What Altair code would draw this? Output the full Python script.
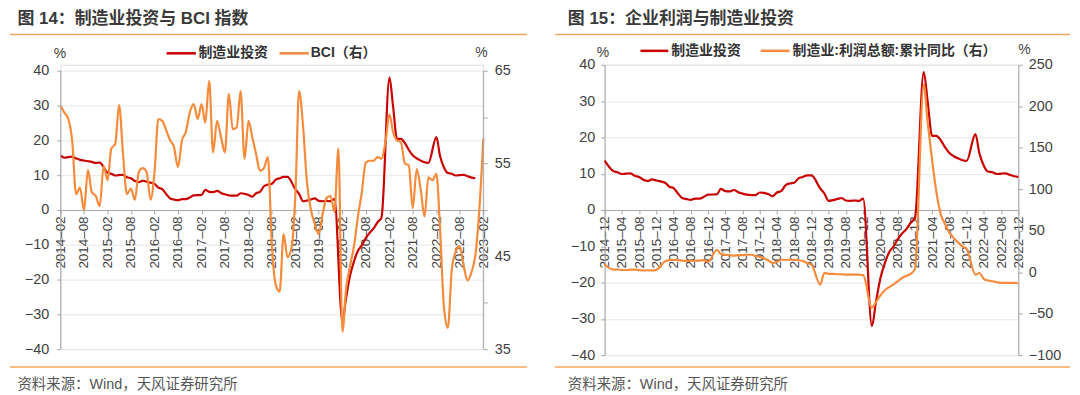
import altair as alt
import pandas as pd

# ---------------- data ----------------
# 制造业投资 累计同比 (%), Feb..Dec of each year
inv_2014 = [15.6, 15.0, 15.2, 15.3, 14.8, 14.4, 14.2, 14.0, 13.8, 13.5, 13.6]
inv_2015 = [10.7, 10.4, 9.9, 10.0, 10.1, 9.4, 9.1, 8.3, 8.0, 8.4, 8.1]
inv_2016 = [7.5, 6.4, 6.0, 4.6, 3.3, 3.0, 2.8, 3.1, 3.1, 3.6, 4.2]
inv_2017 = [4.3, 5.8, 5.2, 5.1, 5.5, 4.9, 4.5, 4.2, 4.1, 4.1, 4.8]
inv_2018 = [4.3, 3.8, 4.8, 5.2, 6.8, 7.3, 7.5, 8.7, 9.1, 9.5, 9.5]
inv_2019 = [5.9, 4.6, 2.5, 2.7, 3.0, 3.3, 2.6, 2.5, 2.6, 2.5, 3.1]
inv_2020 = [-32.0, -25.2, -18.8, -14.8, -11.7, -10.2, -8.1, -6.5, -5.3, -3.5, -2.2]
inv_2021 = [38.0, 29.8, 20.4, 20.4, 19.2, 17.3, 15.7, 14.8, 14.2, 13.7, 13.5]
inv_2022 = [20.9, 15.6, 12.2, 10.6, 10.4, 9.9, 10.0, 10.1, 9.7, 9.3, 9.1]

# BCI, monthly 2014-02 .. 2023-02
bci = [61.2, 60.5, 59.8, 57.5, 51.7, 52.4, 50.0, 54.3, 51.9, 51.5,
       50.4, 54.7, 53.2, 56.6, 57.1, 61.3, 56.0, 51.7, 52.3, 51.1,
       54.1, 54.5, 54.1, 51.1, 54.1, 59.8, 59.6, 58.6, 57.5, 56.8,
       54.6, 57.5, 58.4, 60.5, 61.4, 59.8, 61.4, 59.4, 63.9, 56.2,
       59.6, 57.9, 56.2, 62.5, 58.7, 58.9, 62.8, 55.5, 59.6, 57.9,
       56.0, 54.2, 54.5, 55.7, 46.3, 41.9, 41.2, 47.4, 44.9, 45.9,
       51.9, 62.8, 59.0, 53.0, 50.0, 48.5, 47.4, 49.6, 51.3, 51.5,
       49.8, 56.6, 36.9, 41.5, 44.0, 46.1, 49.3, 51.9, 55.1, 55.3,
       55.3, 55.7, 55.5, 57.3, 60.3, 58.4, 57.5, 57.3, 55.0, 54.8,
       50.2, 54.4, 52.3, 49.3, 53.5, 53.2, 53.9, 48.1, 39.5, 37.3,
       43.6, 45.5, 46.1, 44.0, 42.4, 43.3, 45.1, 50.0, 57.7]

# 制造业:利润总额:累计同比 (%), 2014-12 then Feb..Dec of each year
profit_2014 = [9.2]
profit_2015 = [3.0, 3.2, 2.6, 2.6, 3.0, 3.0, 2.5, 2.0, 2.3, 2.0, 2.8]
profit_2016 = [13.0, 14.5, 15.0, 14.5, 14.0, 13.5, 13.5, 14.0, 14.0, 14.5, 12.5]
profit_2017 = [27.0, 22.0, 21.0, 20.5, 20.0, 20.5, 20.5, 21.0, 21.0, 19.5, 18.5]
profit_2018 = [14.0, 11.0, 12.5, 15.0, 15.0, 15.0, 15.0, 14.5, 13.5, 11.0, 9.0]
profit_2019 = [-15.0, -1.0, -2.0, -2.0, -2.5, -2.5, -3.0, -3.0, -3.0, -3.0, -3.5]
profit_2020 = [-43.0, -36.0, -28.0, -22.0, -18.0, -15.0, -11.0, -7.0, -4.5, -2.0, 4.0]
profit_2021 = [226.0, 180.0, 135.0, 97.0, 70.0, 58.0, 48.0, 41.0, 36.0, 31.0, 28.0]
profit_2022 = [-3.0, -1.0, -8.0, -10.0, -11.0, -12.0, -13.0, -13.0, -13.0, -13.0, -13.4]

# ---------------- helpers ----------------
def ym(y, m):
    return f"{y:04d}-{m:02d}-01"

def ms(s):
    return int(pd.Timestamp(s, tz="UTC").value // 10**6)

def month_seq(y, m, n, step=1):
    out = []
    for _ in range(n):
        out.append(ym(y, m))
        m += step
        while m > 12:
            m -= 12
            y += 1
    return out

inv_dates = [ym(y, m) for y in range(2014, 2023) for m in range(2, 13)]
inv_vals = inv_2014 + inv_2015 + inv_2016 + inv_2017 + inv_2018 + inv_2019 + inv_2020 + inv_2021 + inv_2022
bci_dates = month_seq(2014, 2, len(bci))
prof_dates = [ym(2014, 12)] + [ym(y, m) for y in range(2015, 2023) for m in range(2, 13)]
prof_vals = profit_2014 + profit_2015 + profit_2016 + profit_2017 + profit_2018 + profit_2019 + profit_2020 + profit_2021 + profit_2022

inv_df_l = pd.DataFrame({"d": inv_dates, "v": inv_vals})
inv_df_r = inv_df_l[inv_df_l["d"] >= "2014-12-01"].reset_index(drop=True)
bci_df = pd.DataFrame({"d": bci_dates, "v": bci})
prof_df = pd.DataFrame({"d": prof_dates, "v": prof_vals})
one = pd.DataFrame({"k": [0]})

left_ticks = month_seq(2014, 2, 19, 6)
right_ticks = month_seq(2014, 12, 25, 4)

# ---------------- style ----------------
FONT = "Liberation Sans, Noto Sans CJK SC"
RED = "#C80000"
ORANGE = "#F58B3B"
SEP = "#F5A55F"
GRID = "#E8E8E8"
AXC = "#A6A6A6"
TXT = "#3F3F3F"

def xenc(d0, d1, ticks, offset):
    return alt.X(
        "d:T",
        scale=alt.Scale(type="utc", domain=[ms(d0), ms(d1)], nice=False),
        axis=alt.Axis(
            values=[ms(t) for t in ticks],
            labelExpr="utcFormat(datum.value, '%Y') + '–' + utcFormat(datum.value, '%m')",
            labelAngle=270, labelFont=FONT, labelFontSize=13.5, labelColor=TXT,
            labelPadding=2, labelOverlap=False, labelFlush=False,
            offset=offset, domainColor=AXC, tickColor=AXC, tickSize=4,
            grid=False, title=None,
        ),
    )

def yaxis(orient, values, grid, expr=None, pad=7, domain=True):
    kw = dict(orient=orient, values=values, grid=grid, gridColor=GRID,
              domain=domain, domainColor=AXC, tickColor=AXC, tickSize=4,
              labelFont=FONT, labelFontSize=14.5, labelColor=TXT,
              labelPadding=pad, title=None)
    if expr:
        kw["labelExpr"] = expr
    return alt.Axis(**kw)

def txt(s, x, y, size, weight="normal", color=TXT, baseline="middle"):
    return alt.Chart(one).mark_text(
        text=s, align="left", baseline=baseline, fontSize=size,
        fontWeight=weight, color=color, font=FONT,
    ).encode(x=alt.value(x), y=alt.value(y))

def hline(x1, x2, y, color, width):
    return alt.Chart(one).mark_rule(color=color, strokeWidth=width).encode(
        x=alt.value(x1), x2=alt.value(x2), y=alt.value(y))

def vline(x, y1, y2, color, width):
    return alt.Chart(one).mark_rule(color=color, strokeWidth=width).encode(
        x=alt.value(x), y=alt.value(y1), y2=alt.value(y2))

# ---------------- left panel ----------------
# plot box shares its top with the right panel; the value range starts 6px lower
WL, HL = 425, 286
TOP_L = 6
xL = xenc("2014-02-01", "2023-02-01", left_ticks, -140)
red_l = alt.Chart(inv_df_l).mark_line(color=RED, strokeWidth=2.2, interpolate="monotone").encode(
    x=xL,
    y=alt.Y("v:Q", scale=alt.Scale(domain=[-40, 40 + TOP_L / 3.5], nice=False),
            axis=yaxis("left", list(range(-40, 41, 10)), True, pad=8, domain=False)))
ora_l = alt.Chart(bci_df).mark_line(color=ORANGE, strokeWidth=2.2, interpolate="monotone").encode(
    x=xL,
    y=alt.Y("v:Q", scale=alt.Scale(domain=[35, 65 + TOP_L * 30 / 280], nice=False),
            axis=yaxis("right", list(range(35, 66, 5)), False, domain=False,
                       expr="(datum.value - 35) % 10 == 0 ? datum.label : ''")))
deco_l = [
    vline(0, TOP_L, HL, AXC, 1),
    vline(WL, TOP_L, HL, AXC, 1),
    txt("图 14：制造业投资与 BCI 指数", -43.5, -54, 17, "bold", "#3A3A3A", "top"),
    hline(-51, 469, -30.5, SEP, 1.5),
    txt("%", -7, -11, 14),
    txt("%", 417, -12, 14),
    hline(106.5, 136, -11.5, RED, 2.5),
    txt("制造业投资", 138.5, -11.5, 14, "bold", "#333333"),
    hline(220, 249.5, -11.5, ORANGE, 2.5),
    txt("BCI（右）", 251.5, -11.5, 14, "bold", "#333333"),
    hline(-51, 469, 304, SEP, 1.5),
    txt("资料来源：Wind，天风证券研究所", -43.5, 322, 14.5, "normal", "#555555"),
]
left = alt.layer(red_l, ora_l, *deco_l).resolve_scale(y="independent").properties(width=WL, height=HL)

# ---------------- right panel ----------------
WR, HR = 416, 292
xR = xenc("2014-12-01", "2022-12-01", right_ticks, -146)
red_r = alt.Chart(inv_df_r).mark_line(color=RED, strokeWidth=2.2, interpolate="monotone").encode(
    x=xR,
    y=alt.Y("v:Q", scale=alt.Scale(domain=[-40, 40], nice=False),
            axis=yaxis("left", list(range(-40, 41, 10)), True, pad=6)))
ora_r = alt.Chart(prof_df).mark_line(color=ORANGE, strokeWidth=2.2, interpolate="monotone").encode(
    x=xR,
    y=alt.Y("v:Q", scale=alt.Scale(domain=[-100, 250], nice=False),
            axis=yaxis("right", list(range(-100, 251, 50)), False, pad=6)))
deco_r = [
    txt("图 15：企业利润与制造业投资", -37, -54, 17, "bold", "#3A3A3A", "top"),
    hline(-50, 468, -30.5, SEP, 1.5),
    txt("%", -8, -12, 14),
    txt("%", 416, -15, 14),
    hline(36, 64, -14, RED, 2.5),
    txt("制造业投资", 67, -14, 14, "bold", "#333333"),
    hline(157, 186, -14, ORANGE, 2.5),
    txt("制造业:利润总额:累计同比（右）", 189, -14, 14, "bold", "#333333"),
    hline(-50, 468, 304, SEP, 1.5),
    txt("资料来源：Wind，天风证券研究所", -37, 322, 14.5, "normal", "#555555"),
]
right = alt.layer(red_r, ora_r, *deco_r).resolve_scale(y="independent").properties(width=WR, height=HR)

chart = alt.hconcat(left, right, spacing=24).properties(
    padding={"left": 0, "top": 0, "right": 0, "bottom": 0}
).configure_view(strokeWidth=0).configure(font=FONT)

chart.save("out.html", embed_options={"renderer": "svg", "actions": False})
